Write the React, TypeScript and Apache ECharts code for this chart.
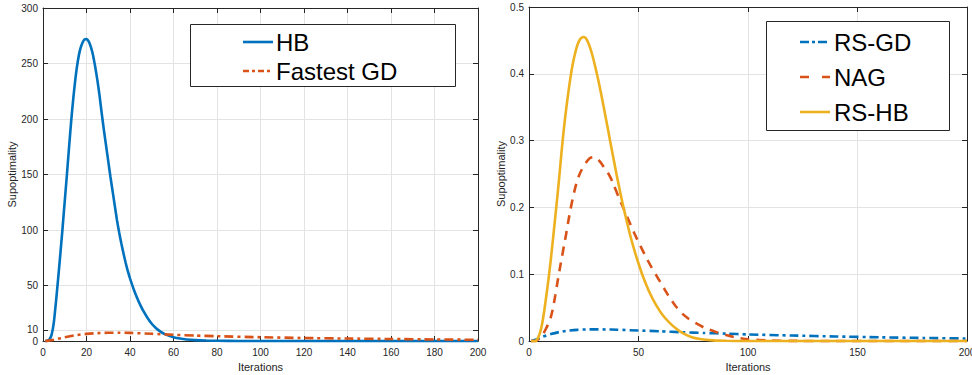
import React, { useEffect, useRef } from "react";
import * as echarts from "echarts";

// ---- Left panel data ----
const hbX = [1, 2, 3, 4, 5, 6, 7, 8, 9, 10, 11, 12, 13, 14, 15, 16, 17, 18, 19, 20, 21, 22, 23, 24, 25, 26, 27, 28, 29, 30, 31, 32, 33, 34, 35, 36, 37, 38, 39, 40, 41, 42, 43, 44, 46, 48, 50, 52, 54, 56, 58, 60, 63, 66, 70, 75, 80, 90, 100, 120, 200];
const hbY = [0, 0.2, 1.5, 6, 17, 36, 57, 79, 102, 126, 150, 175, 199, 220, 238, 252, 262, 268, 271.5, 272, 270, 265, 257.5, 247, 235, 221, 205, 190, 176, 162, 148, 135, 122, 109, 98, 88, 79, 70.5, 63, 56.5, 50.5, 45, 40, 35.5, 27.5, 21, 15.5, 11.5, 8.5, 6.2, 4.6, 3.4, 2.2, 1.4, 0.8, 0.4, 0.2, 0.06, 0.02, 0, 0];
const fgdX = [1, 5, 10, 15, 20, 25, 30, 35, 40, 50, 60, 70, 80, 100, 120, 140, 160, 180, 200];
const fgdY = [0, 1.2, 3.3, 5.2, 6.4, 7.1, 7.4, 7.5, 7.3, 6.5, 5.6, 4.9, 4.3, 3.4, 2.7, 2.2, 1.8, 1.4, 1.1];
const leftYTicks = [0, 10, 50, 100, 150, 200, 250, 300];

// ---- Right panel data ----
const rsgdX = [1, 4, 6, 8, 10, 14, 18, 22, 26, 30, 35, 40, 50, 60, 70, 80, 90, 100, 120, 140, 160, 180, 200];
const rsgdY = [0, 0.003, 0.006, 0.0085, 0.0105, 0.0135, 0.0155, 0.0167, 0.0173, 0.0175, 0.0173, 0.0169, 0.0157, 0.0145, 0.013, 0.012, 0.011, 0.0098, 0.0082, 0.0068, 0.0055, 0.0046, 0.0037];
const nagX = [1, 3, 4, 6, 8, 9, 10, 11, 12, 13, 14, 15, 16, 17, 18, 19, 20, 21, 22, 23, 24, 25, 26, 27, 28, 29, 30, 31, 32, 33, 34, 35, 36, 37, 38, 39, 40, 41, 42, 43, 44, 46, 48, 50, 52, 54, 56, 58, 60, 62, 64, 67, 70, 73, 76, 80, 85, 90, 95, 100, 110, 120, 140, 200];
const nagY = [0, 0, 0.002, 0.008, 0.02, 0.027, 0.036, 0.05, 0.068, 0.088, 0.107, 0.125, 0.143, 0.161, 0.18, 0.198, 0.214, 0.228, 0.24, 0.249, 0.256, 0.262, 0.267, 0.271, 0.274, 0.275, 0.275, 0.273, 0.27, 0.266, 0.261, 0.256, 0.252, 0.246, 0.239, 0.231, 0.223, 0.215, 0.207, 0.2, 0.192, 0.177, 0.162, 0.148, 0.135, 0.122, 0.11, 0.099, 0.088, 0.077, 0.066, 0.052, 0.041, 0.033, 0.027, 0.02, 0.014, 0.009, 0.005, 0.0025, 0.0008, 0.0002, 0, 0];
const rshbX = [1, 3, 4, 5, 6, 7, 8, 9, 10, 11, 12, 13, 14, 15, 16, 17, 18, 19, 20, 21, 22, 23, 24, 25, 26, 27, 28, 29, 30, 31, 32, 33, 34, 35, 36, 37, 38, 39, 40, 41, 42, 43, 44, 46, 48, 50, 52, 55, 58, 61, 64, 67, 70, 74, 78, 84, 90, 100, 200];
const rshbY = [0, 0, 0.004, 0.012, 0.026, 0.046, 0.07, 0.095, 0.123, 0.154, 0.186, 0.218, 0.252, 0.288, 0.32, 0.348, 0.373, 0.396, 0.415, 0.43, 0.442, 0.45, 0.454, 0.455, 0.453, 0.447, 0.438, 0.427, 0.414, 0.4, 0.385, 0.369, 0.352, 0.335, 0.318, 0.3, 0.283, 0.266, 0.249, 0.233, 0.217, 0.202, 0.188, 0.161, 0.137, 0.116, 0.097, 0.073, 0.054, 0.039, 0.028, 0.019, 0.012, 0.006, 0.003, 0.001, 0.0003, 0, 0];

const leftNames = ["HB", "Fastest GD"];
const rightNames = ["RS-GD", "NAG", "RS-HB"];

const BLUE = "#0072BD";
const ORANGE = "#D95319";
const YELLOW = "#EDB120";
const AX = "#262626";
const GRID = "#e3e3e3";
const FONT = "'Liberation Sans', Arial, Helvetica, sans-serif";

const pairs = (xs: number[], ys: number[]) => xs.map((x, i) => [x, ys[i]]);

export default function App() {
  const ref = useRef<HTMLDivElement>(null);
  useEffect(() => {
    document.body.style.margin = "0";
    const chart = echarts.init(ref.current!, undefined, { renderer: "svg" });

    const baseX = (gridIndex: number, interval: number, show: boolean, pos: string) => ({
      type: "value",
      gridIndex,
      position: pos,
      min: 0,
      max: 200,
      interval,
      axisLine: { show: true, onZero: false, lineStyle: { color: AX, width: 1 } },
      axisTick: { show: true, inside: true, length: 5, lineStyle: { color: AX } },
      axisLabel: { show, color: AX, fontSize: 10, fontFamily: FONT, margin: 6 },
      splitLine: { show: show, lineStyle: { color: GRID, width: 1 } },
      name: show ? "Iterations" : "",
      nameLocation: "middle",
      nameGap: 18,
      nameTextStyle: { color: AX, fontSize: 11, fontFamily: FONT },
    });

    const lineSeries = (name: string, xi: number, xs: number[], ys: number[], color: string, dash?: number[]) => ({
      name, type: "line", xAxisIndex: xi, yAxisIndex: xi,
      data: pairs(xs, ys), showSymbol: false, smooth: 0.2, clip: false,
      lineStyle: { color, width: 2.6, type: dash ?? "solid" },
    });

    const option: any = {
      animation: false,
      grid: [
        { left: 43, right: 494, top: 8, bottom: 34, containLabel: false, outerBoundsMode: "none" },
        { left: 529, right: 5, top: 7, bottom: 34, containLabel: false, outerBoundsMode: "none" },
      ],
      xAxis: [
        baseX(0, 20, true, "bottom"),
        baseX(0, 20, false, "top"),
        baseX(1, 50, true, "bottom"),
        baseX(1, 50, false, "top"),
      ],
      yAxis: [
        {
          type: "value", gridIndex: 0, position: "left", min: 0, max: 300,
          axisLine: { show: true, onZero: false, lineStyle: { color: AX } },
          axisTick: { show: true, inside: true, length: 5, customValues: leftYTicks, lineStyle: { color: AX } },
          axisLabel: { color: AX, fontSize: 10, fontFamily: FONT, margin: 5, customValues: leftYTicks },
          splitLine: { show: true, lineStyle: { color: GRID } },
          name: "Supoptimality", nameLocation: "middle", nameGap: 25,
          nameTextStyle: { color: AX, fontSize: 11, fontFamily: FONT },
        },
        {
          type: "value", gridIndex: 0, position: "right", min: 0, max: 300,
          axisLine: { show: true, onZero: false, lineStyle: { color: AX } },
          axisTick: { show: true, inside: true, length: 5, customValues: leftYTicks, lineStyle: { color: AX } },
          axisLabel: { show: false, customValues: leftYTicks },
          splitLine: { show: false },
        },
        {
          type: "value", gridIndex: 1, position: "left", min: 0, max: 0.5, interval: 0.1,
          axisLine: { show: true, onZero: false, lineStyle: { color: AX } },
          axisTick: { show: true, inside: true, length: 5, lineStyle: { color: AX } },
          axisLabel: { color: AX, fontSize: 10, fontFamily: FONT, margin: 5 },
          splitLine: { show: true, lineStyle: { color: GRID } },
          name: "Supoptimality", nameLocation: "middle", nameGap: 21,
          nameTextStyle: { color: AX, fontSize: 11, fontFamily: FONT },
        },
        {
          type: "value", gridIndex: 1, position: "right", min: 0, max: 0.5, interval: 0.1,
          axisLine: { show: true, onZero: false, lineStyle: { color: AX } },
          axisTick: { show: true, inside: true, length: 5, lineStyle: { color: AX } },
          axisLabel: { show: false },
          splitLine: { show: false },
        },
      ],
      series: [
        lineSeries(leftNames[0], 0, hbX, hbY, BLUE),
        lineSeries(leftNames[1], 0, fgdX, fgdY, ORANGE, [9, 4, 3, 4]),
        lineSeries(rightNames[0], 2, rsgdX, rsgdY, BLUE, [9, 4, 3, 4]),
        lineSeries(rightNames[1], 2, nagX, nagY, ORANGE, [9, 7]),
        lineSeries(rightNames[2], 2, rshbX, rshbY, YELLOW),
      ],
      graphic: [
        // left legend
        { type: "rect", z: 100, shape: { x: 190.5, y: 24.5, width: 265, height: 62 }, style: { fill: "#fff", stroke: AX, lineWidth: 1 } },
        { type: "line", z: 101, shape: { x1: 243, y1: 42, x2: 273, y2: 42 }, style: { stroke: BLUE, lineWidth: 2.6 } },
        { type: "text", z: 101, x: 276, y: 42, style: { text: leftNames[0], fontSize: 24, fontFamily: FONT, fill: "#000", verticalAlign: "middle" } },
        { type: "line", z: 101, shape: { x1: 243, y1: 71, x2: 273, y2: 71 }, style: { stroke: ORANGE, lineWidth: 2.6, lineDash: [6, 3, 3, 3] } },
        { type: "text", z: 101, x: 276, y: 71, style: { text: leftNames[1], fontSize: 24, fontFamily: FONT, fill: "#000", verticalAlign: "middle" } },
        // right legend
        { type: "rect", z: 100, shape: { x: 766.5, y: 21.5, width: 183, height: 109 }, style: { fill: "#fff", stroke: AX, lineWidth: 1 } },
        { type: "line", z: 101, shape: { x1: 800, y1: 42, x2: 830, y2: 42 }, style: { stroke: BLUE, lineWidth: 2.6, lineDash: [9, 3, 3, 3] } },
        { type: "text", z: 101, x: 834, y: 42, style: { text: rightNames[0], fontSize: 24, fontFamily: FONT, fill: "#000", verticalAlign: "middle" } },
        { type: "line", z: 101, shape: { x1: 800, y1: 77, x2: 830, y2: 77 }, style: { stroke: ORANGE, lineWidth: 2.6, lineDash: [9, 13] } },
        { type: "text", z: 101, x: 834, y: 77, style: { text: rightNames[1], fontSize: 24, fontFamily: FONT, fill: "#000", verticalAlign: "middle" } },
        { type: "line", z: 101, shape: { x1: 800, y1: 112, x2: 830, y2: 112 }, style: { stroke: YELLOW, lineWidth: 2.6 } },
        { type: "text", z: 101, x: 834, y: 112, style: { text: rightNames[2], fontSize: 24, fontFamily: FONT, fill: "#000", verticalAlign: "middle" } },
      ],
    };
    chart.setOption(option);
    return () => chart.dispose();
  }, []);
  return <div ref={ref} style={{ width: 972, height: 375 }} />;
}
